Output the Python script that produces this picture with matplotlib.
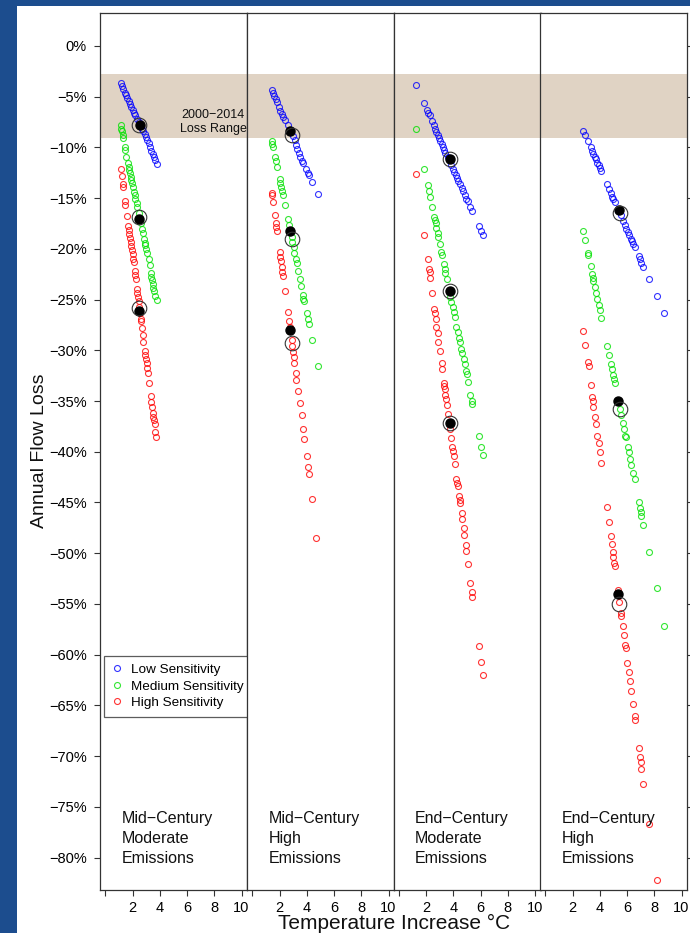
import matplotlib
matplotlib.use('Agg')
import matplotlib.pyplot as plt
from matplotlib.patches import Rectangle
from matplotlib.lines import Line2D

plt.rcParams['font.family'] = ['Liberation Sans', 'DejaVu Sans']

panel_names = ["Mid\u2212Century\nModerate\nEmissions",
               "Mid\u2212Century\nHigh\nEmissions",
               "End\u2212Century\nModerate\nEmissions",
               "End\u2212Century\nHigh\nEmissions"]
sens_names = ["Low Sensitivity", "Medium Sensitivity", "High Sensitivity"]
sens_colors = ["#0000ff", "#00e000", "#ff0000"]

# ---- Mid-Century, Moderate Emissions
mm_low_t = [1.12, 1.22, 1.32, 1.41, 1.51, 1.61, 1.71, 1.81, 1.90, 2.00, 2.10, 2.20, 2.30, 2.44,
            2.59, 2.69, 2.79, 2.88, 2.98, 3.08, 3.18, 3.28, 3.37, 3.47, 3.57, 3.67, 3.77]
mm_low_y = [-3.68, -3.94, -4.27, -4.60, -4.86, -5.16, -5.46, -5.75, -6.05, -6.31, -6.58, -6.84,
            -7.17, -7.50, -7.89, -8.15, -8.42, -8.68, -9.01, -9.27, -9.60, -9.99, -10.32, -10.65,
            -10.91, -11.24, -11.64]
mm_med_t = [1.12, 1.17, 1.22, 1.27, 1.32, 1.41, 1.46, 1.51, 1.66, 1.71, 1.76, 1.81, 1.85, 1.90,
            1.95, 2.00, 2.10, 2.15, 2.20, 2.30, 2.35, 2.44, 2.54, 2.59, 2.69, 2.74, 2.84, 2.88,
            2.93, 2.98, 3.03, 3.18, 3.28, 3.33, 3.37, 3.42, 3.47, 3.52, 3.57, 3.67, 3.77]
mm_med_y = [-7.82, -8.15, -8.42, -8.81, -9.07, -9.93, -10.26, -10.91, -11.57, -11.97, -12.23,
            -12.56, -12.89, -13.21, -13.54, -13.87, -14.40, -14.73, -15.06, -15.52, -15.85,
            -16.50, -17.03, -17.49, -18.08, -18.47, -19.00, -19.40, -19.66, -20.05, -20.44,
            -20.97, -21.63, -22.42, -22.75, -23.08, -23.47, -23.87, -24.19, -24.65, -25.05]
mm_high_t = [1.12, 1.22, 1.32, 1.32, 1.46, 1.46, 1.56, 1.66, 1.71, 1.76, 1.81, 1.85, 1.90, 1.95,
             2.00, 2.05, 2.10, 2.15, 2.20, 2.25, 2.30, 2.35, 2.39, 2.44, 2.49, 2.54, 2.59, 2.64,
             2.69, 2.74, 2.79, 2.88, 2.93, 2.98, 3.03, 3.08, 3.13, 3.23, 3.33, 3.37, 3.42, 3.47,
             3.52, 3.57, 3.62, 3.67, 3.72]
mm_high_y = [-12.10, -12.82, -13.61, -13.94, -15.32, -15.71, -16.77, -17.75, -18.15, -18.54,
             -18.93, -19.33, -19.72, -20.12, -20.51, -20.97, -21.30, -22.16, -22.55, -22.95,
             -23.93, -24.39, -24.79, -25.18, -25.71, -26.36, -26.89, -27.15, -27.81, -28.53,
             -29.19, -30.05, -30.44, -30.84, -31.29, -31.76, -32.22, -33.27, -34.52, -35.11,
             -35.57, -36.16, -36.56, -36.88, -37.28, -38.07, -38.59]

# ---- Mid-Century, High Emissions
mh_low_t = [1.40, 1.50, 1.60, 1.70, 1.79, 1.94, 2.04, 2.14, 2.23, 2.38, 2.58, 2.82, 2.97, 3.12,
            3.22, 3.31, 3.41, 3.51, 3.66, 3.75, 3.90, 4.05, 4.15, 4.39, 4.78]
mh_low_y = [-4.34, -4.60, -4.93, -5.26, -5.52, -6.05, -6.38, -6.71, -6.97, -7.30, -7.82, -8.28,
            -8.88, -9.27, -9.73, -10.13, -10.52, -10.91, -11.31, -11.57, -12.10, -12.49, -12.75,
            -13.41, -14.60]
mh_med_t = [1.40, 1.45, 1.50, 1.65, 1.74, 1.79, 1.99, 2.04, 2.09, 2.14, 2.23, 2.38, 2.58, 2.68,
            2.77, 2.87, 2.92, 3.02, 3.07, 3.17, 3.26, 3.36, 3.46, 3.56, 3.71, 3.75, 3.80, 4.00,
            4.05, 4.15, 4.39, 4.78]
mh_med_y = [-9.40, -9.66, -9.99, -10.91, -11.37, -11.90, -13.15, -13.48, -13.87, -14.27, -14.73,
            -15.71, -17.09, -17.62, -18.21, -18.80, -19.33, -19.86, -20.38, -20.97, -21.43,
            -22.16, -22.95, -23.67, -24.52, -24.92, -25.18, -26.30, -26.96, -27.42, -28.99, -31.56]
mh_high_t = [1.40, 1.45, 1.50, 1.65, 1.70, 1.74, 1.79, 1.99, 2.04, 2.09, 2.14, 2.19, 2.23, 2.38,
             2.58, 2.68, 2.77, 2.87, 2.92, 2.97, 3.02, 3.07, 3.17, 3.22, 3.36, 3.46, 3.61, 3.71,
             3.80, 4.00, 4.10, 4.15, 4.39, 4.64]
mh_high_y = [-14.47, -14.73, -15.38, -16.70, -17.49, -17.88, -18.28, -20.32, -20.78, -21.24,
             -21.76, -22.29, -22.68, -24.13, -26.23, -27.15, -27.68, -28.99, -29.59, -30.18,
             -30.70, -31.29, -32.28, -32.94, -34.05, -35.24, -36.42, -37.74, -38.73, -40.43,
             -41.49, -42.21, -44.65, -48.50]

# ---- End-Century, Moderate Emissions
em_low_t = [1.27, 1.85, 2.05, 2.15, 2.25, 2.44, 2.54, 2.64, 2.74, 2.84, 2.93, 3.03, 3.13, 3.23,
            3.33, 3.42, 3.57, 3.72, 3.86, 3.96, 4.06, 4.16, 4.26, 4.35, 4.45, 4.60, 4.70, 4.85,
            4.94, 5.04, 5.24, 5.38, 5.87, 6.02, 6.17]
em_low_y = [-3.81, -5.59, -6.31, -6.57, -6.84, -7.36, -7.82, -8.15, -8.48, -8.81, -9.07, -9.40,
            -9.66, -9.99, -10.26, -10.59, -10.91, -11.18, -11.77, -12.10, -12.43, -12.75, -13.02,
            -13.28, -13.61, -14.00, -14.27, -14.73, -15.06, -15.32, -15.85, -16.24, -17.75,
            -18.21, -18.61]
em_med_t = [1.27, 1.85, 2.10, 2.20, 2.30, 2.44, 2.59, 2.64, 2.69, 2.74, 2.84, 2.88, 2.98, 3.08,
            3.18, 3.28, 3.37, 3.42, 3.52, 3.67, 3.77, 3.86, 3.96, 4.01, 4.11, 4.21, 4.31, 4.40,
            4.45, 4.55, 4.65, 4.75, 4.85, 4.89, 4.99, 5.09, 5.24, 5.34, 5.38, 5.87, 6.02, 6.17]
em_med_y = [-8.22, -12.10, -13.68, -14.33, -14.86, -15.85, -16.83, -17.16, -17.49, -17.95,
            -18.41, -18.80, -19.53, -20.32, -20.64, -21.50, -21.96, -22.42, -23.01, -24.13,
            -24.72, -25.25, -25.77, -26.23, -26.76, -27.68, -28.21, -28.80, -29.19, -29.85,
            -30.31, -30.84, -31.36, -32.02, -32.35, -33.14, -34.39, -34.98, -35.31, -38.46,
            -39.51, -40.30]
em_high_t = [1.27, 1.85, 2.10, 2.20, 2.25, 2.30, 2.44, 2.59, 2.64, 2.69, 2.74, 2.84, 2.88, 2.98,
             3.13, 3.18, 3.28, 3.33, 3.37, 3.42, 3.47, 3.52, 3.62, 3.77, 3.86, 3.91, 3.96, 4.01,
             4.11, 4.21, 4.26, 4.31, 4.40, 4.45, 4.50, 4.60, 4.65, 4.75, 4.80, 4.89, 4.94, 5.09,
             5.24, 5.34, 5.38, 5.87, 6.02, 6.17]
em_high_y = [-12.62, -18.61, -21.04, -22.02, -22.29, -22.88, -24.39, -25.97, -26.30, -26.89,
             -27.68, -28.33, -29.19, -30.11, -31.29, -31.82, -33.20, -33.53, -33.79, -34.45,
             -34.78, -35.44, -36.29, -37.80, -38.66, -39.51, -39.97, -40.37, -41.22, -42.67,
             -43.07, -43.39, -44.38, -44.71, -45.10, -46.02, -46.61, -47.53, -48.19, -49.24,
             -49.77, -51.02, -52.93, -53.85, -54.31, -59.17, -60.75, -62.00]

# ---- End-Century, High Emissions
eh_low_t = [2.79, 2.93, 3.13, 3.33, 3.42, 3.52, 3.62, 3.72, 3.82, 3.91, 4.01, 4.11, 4.50, 4.65,
            4.80, 4.89, 4.99, 5.09, 5.38, 5.53, 5.68, 5.83, 5.92, 6.07, 6.17, 6.27, 6.36, 6.46,
            6.61, 6.85, 6.95, 7.05, 7.20, 7.59, 8.18, 8.72]
eh_low_y = [-8.41, -8.81, -9.40, -9.99, -10.39, -10.65, -10.91, -11.18, -11.51, -11.77, -12.03,
            -12.36, -13.61, -14.07, -14.47, -14.86, -15.12, -15.38, -16.17, -16.70, -17.23,
            -17.69, -18.08, -18.34, -18.67, -19.00, -19.26, -19.53, -19.85, -20.71, -21.04,
            -21.37, -21.82, -23.01, -24.65, -26.36]
eh_med_t = [2.79, 2.93, 3.13, 3.13, 3.33, 3.42, 3.47, 3.52, 3.67, 3.72, 3.82, 3.91, 4.01, 4.11,
            4.50, 4.65, 4.80, 4.89, 4.94, 5.04, 5.09, 5.38, 5.48, 5.58, 5.68, 5.78, 5.87, 5.92,
            6.07, 6.12, 6.22, 6.32, 6.46, 6.56, 6.85, 6.95, 7.00, 7.05, 7.20, 7.59, 8.18, 8.72]
eh_med_y = [-18.28, -19.13, -20.38, -20.58, -21.70, -22.49, -22.88, -23.21, -23.80, -24.33,
            -24.98, -25.51, -26.04, -26.82, -29.59, -30.50, -31.36, -31.89, -32.48, -32.81,
            -33.20, -34.98, -35.77, -36.42, -37.15, -37.74, -38.40, -38.53, -39.51, -40.04,
            -40.70, -41.29, -42.14, -42.73, -44.97, -45.56, -45.96, -46.29, -47.21, -49.84,
            -53.45, -57.14]
eh_high_t = [2.79, 2.93, 3.13, 3.18, 3.33, 3.42, 3.47, 3.52, 3.67, 3.72, 3.82, 3.91, 4.01, 4.11,
             4.50, 4.65, 4.80, 4.89, 4.94, 4.99, 5.04, 5.09, 5.34, 5.43, 5.53, 5.58, 5.68, 5.78,
             5.87, 5.92, 6.02, 6.12, 6.22, 6.32, 6.46, 6.56, 6.61, 6.85, 6.95, 7.00, 7.05, 7.20,
             7.59, 8.18]
eh_high_y = [-28.07, -29.45, -31.16, -31.56, -33.40, -34.58, -35.04, -35.57, -36.62, -37.28,
             -38.40, -39.18, -40.04, -41.15, -45.43, -46.94, -48.26, -49.05, -49.90, -50.36,
             -50.95, -51.22, -53.65, -54.83, -55.88, -56.21, -57.13, -58.06, -59.04, -59.30,
             -60.82, -61.67, -62.59, -63.58, -64.82, -66.07, -66.40, -69.16, -70.09, -70.61,
             -71.27, -72.71, -76.66, -82.25]

# medians (filled) and means (ring) per panel: low, medium, high
dot_t = [[2.54, 2.49, 2.49], [2.77, 2.77, 2.77], [3.72, 3.72, 3.72], [5.38, 5.34, 5.34]]
dot_y = [[-7.82, -17.03, -26.17], [-8.41, -18.21, -28.01], [-11.11, -24.13, -37.15],
         [-16.17, -35.04, -53.98]]
ring_t = [[2.49, 2.49, 2.49], [2.87, 2.87, 2.87], [3.72, 3.72, 3.72], [5.48, 5.48, 5.43]]
ring_y = [[-7.76, -16.83, -25.84], [-8.81, -19.07, -29.26], [-11.11, -24.13, -37.15],
          [-16.50, -35.77, -54.96]]

loss_range = (-9.1, -2.8)

panels = [
    [(mm_low_t, mm_low_y), (mm_med_t, mm_med_y), (mm_high_t, mm_high_y)],
    [(mh_low_t, mh_low_y), (mh_med_t, mh_med_y), (mh_high_t, mh_high_y)],
    [(em_low_t, em_low_y), (em_med_t, em_med_y), (em_high_t, em_high_y)],
    [(eh_low_t, eh_low_y), (eh_med_t, eh_med_y), (eh_high_t, eh_high_y)],
]

W, H = 690, 933
fig = plt.figure(figsize=(W / 100, H / 100), dpi=100)
fig.patch.set_facecolor('#1c4d8e')
fig.patches.append(Rectangle((17 / W, 0), 1 - 17 / W, 1 - 6 / H, transform=fig.transFigure,
                             facecolor='white', edgecolor='none', zorder=-10))

lefts = [100, 247, 393.5, 540]
pw = 147
top_px, bot_px = 13, 890
axes = []
for i in range(4):
    ax = fig.add_axes([lefts[i] / W, (H - bot_px) / H, pw / W, (bot_px - top_px) / H])
    axes.append(ax)
    ax.set_facecolor('white')
    ax.axhspan(loss_range[0], loss_range[1], color='#e0d3c4', lw=0, zorder=0)
    for (t, y), c in zip(panels[i], sens_colors):
        ax.plot(t, y, 'o', ms=4.3, mfc='none', mec=c, mew=0.8, alpha=0.8, zorder=2)
    ax.plot(dot_t[i], dot_y[i], 'o', ms=6.5, color='black', zorder=3)
    ax.plot(ring_t[i], ring_y[i], 'o', ms=10.5, mfc='none', mec='#333333', mew=0.8, zorder=4)
    ax.set_xlim(-0.4, 10.4)
    ax.set_ylim(-83.2, 3.25)
    ax.set_xticks([0, 2, 4, 6, 8, 10])
    ax.set_xticklabels(['', '2', '4', '6', '8', '10'], fontsize=10.5)
    ax.tick_params(axis='x', length=4.5, width=0.8, pad=3.5, color='#333333')
    for s in ax.spines.values():
        s.set_color('#333333')
        s.set_linewidth(0.9)
    ax.text(0.145, 0.09, panel_names[i], transform=ax.transAxes, ha='left', va='top',
            fontsize=11.5, linespacing=1.4, color='#111111')
    if i == 0:
        ax.set_yticks(range(0, -85, -5))
        ax.set_yticklabels(['%d%%' % v if v == 0 else '\u2212%d%%' % -v for v in range(0, -85, -5)],
                           fontsize=10.5)
        ax.tick_params(axis='y', length=4.5, width=0.8, pad=5, color='#333333')
    elif i == 3:
        ax.set_yticks(range(0, -85, -5))
        ax.yaxis.tick_right()
        ax.tick_params(axis='y', length=4.5, width=0.8, labelright=False, color='#333333')
    else:
        ax.set_yticks([])

axes[0].text(7.9, -7.5, "2000\u22122014\nLoss Range", ha='center', va='center',
             fontsize=9, linespacing=1.2, color='#111111', zorder=5)

handles = [Line2D([], [], ls='none', marker='o', ms=4.3, mfc='none', mec=c, mew=0.8, alpha=0.8)
           for c in sens_colors]
leg = axes[0].legend(handles, sens_names, loc='lower left', bbox_to_anchor=(0.027, 0.197),
                     borderaxespad=0, fontsize=9.7, frameon=True, fancybox=False,
                     handlelength=0.8, handletextpad=0.6, labelspacing=0.3, borderpad=0.6)
leg.get_frame().set_edgecolor('#333333')
leg.get_frame().set_linewidth(0.9)

fig.text(394 / W, 1 - 923.5 / H, "Temperature Increase \u00b0C", ha='center', va='center',
         fontsize=15, color='#111111')
fig.text(40 / W, 1 - 451 / H, "Annual Flow Loss", ha='center', va='center', rotation=90,
         fontsize=14, color='#111111')

fig.savefig('out.png', dpi=100, facecolor=fig.get_facecolor())
